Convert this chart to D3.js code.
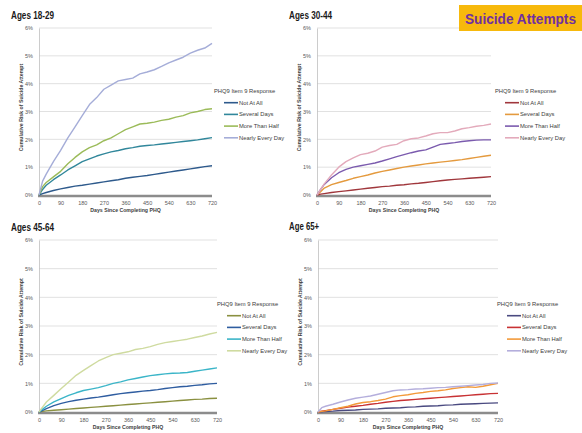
<!DOCTYPE html>
<html>
<head>
<meta charset="utf-8">
<script src="https://cdn.jsdelivr.net/npm/d3@7"></script>
<style>
body { margin: 0; background: #fff; }
svg { display: block; font-family: "Liberation Sans", Arial, sans-serif; }
</style>
</head>
<body>
<div id="app"></div>
<script>
// days since PHQ, shared by every curve
var days = [0, 15, 30, 60, 90, 120, 150, 180, 210, 240, 270, 300, 330, 360, 390, 420, 450, 480, 510, 540, 570, 600, 630, 660, 690, 720];
var xTicks = [0, 90, 180, 270, 360, 450, 540, 630, 720];
var yTicks = [0, 1, 2, 3, 4, 5, 6];
var responses = ['Not At All', 'Several Days', 'More Than Half', 'Nearly Every Day'];
var panelTitles = ['Ages 18-29', 'Ages 30-44', 'Ages 45-64', 'Age 65+'];

// cumulative risk (%) - ages 18-29
var a1829NotAtAll = [0, 0.05, 0.09, 0.16, 0.22, 0.27, 0.32, 0.35, 0.39, 0.43, 0.47, 0.51, 0.55, 0.6, 0.64, 0.67, 0.7, 0.74, 0.78, 0.82, 0.86, 0.9, 0.94, 0.98, 1.02, 1.05];
var a1829Several = [0, 0.2, 0.35, 0.55, 0.72, 0.9, 1.05, 1.2, 1.3, 1.4, 1.48, 1.55, 1.6, 1.66, 1.7, 1.75, 1.78, 1.8, 1.83, 1.86, 1.89, 1.92, 1.95, 1.98, 2.02, 2.06];
var a1829MoreHalf = [0, 0.3, 0.45, 0.65, 0.85, 1.12, 1.35, 1.55, 1.7, 1.8, 1.95, 2.05, 2.2, 2.35, 2.45, 2.55, 2.58, 2.62, 2.68, 2.72, 2.8, 2.85, 2.95, 3.0, 3.07, 3.1];
var a1829Nearly = [0, 0.5, 0.75, 1.2, 1.6, 2.05, 2.45, 2.85, 3.25, 3.5, 3.8, 3.95, 4.1, 4.15, 4.2, 4.35, 4.42, 4.5, 4.62, 4.75, 4.85, 4.95, 5.1, 5.2, 5.28, 5.45];

// ages 30-44
var a3044NotAtAll = [0, 0.03, 0.05, 0.09, 0.12, 0.15, 0.18, 0.21, 0.24, 0.27, 0.3, 0.32, 0.35, 0.37, 0.4, 0.42, 0.45, 0.48, 0.51, 0.54, 0.56, 0.58, 0.6, 0.62, 0.64, 0.66];
var a3044Several = [0, 0.12, 0.25, 0.37, 0.45, 0.52, 0.6, 0.66, 0.72, 0.79, 0.85, 0.9, 0.95, 1.0, 1.04, 1.08, 1.12, 1.15, 1.18, 1.21, 1.24, 1.27, 1.31, 1.35, 1.39, 1.43];
var a3044MoreHalf = [0, 0.2, 0.38, 0.62, 0.8, 0.92, 1.0, 1.05, 1.1, 1.15, 1.22, 1.3, 1.38, 1.45, 1.52, 1.58, 1.62, 1.72, 1.82, 1.85, 1.88, 1.92, 1.95, 1.97, 1.98, 1.98];
var a3044Nearly = [0, 0.2, 0.4, 0.72, 1.0, 1.2, 1.33, 1.45, 1.5, 1.58, 1.72, 1.78, 1.82, 1.95, 2.02, 2.05, 2.12, 2.2, 2.24, 2.24, 2.3, 2.38, 2.42, 2.47, 2.5, 2.55];

// ages 45-64
var a4564NotAtAll = [0, 0.02, 0.04, 0.06, 0.08, 0.1, 0.12, 0.14, 0.16, 0.18, 0.2, 0.22, 0.24, 0.26, 0.28, 0.3, 0.32, 0.34, 0.36, 0.38, 0.4, 0.42, 0.44, 0.45, 0.47, 0.48];
var a4564Several = [0, 0.06, 0.12, 0.22, 0.3, 0.36, 0.41, 0.45, 0.49, 0.52, 0.56, 0.6, 0.64, 0.67, 0.7, 0.73, 0.75, 0.78, 0.82, 0.85, 0.88, 0.9, 0.93, 0.95, 0.98, 1.0];
var a4564MoreHalf = [0, 0.1, 0.2, 0.35, 0.47, 0.58, 0.67, 0.75, 0.8, 0.85, 0.92, 1.0, 1.05, 1.12, 1.17, 1.22, 1.27, 1.3, 1.33, 1.35, 1.36, 1.38, 1.42, 1.46, 1.5, 1.54];
var a4564Nearly = [0, 0.18, 0.35, 0.58, 0.82, 1.05, 1.28, 1.45, 1.62, 1.78, 1.9, 2.0, 2.05, 2.1, 2.18, 2.22, 2.28, 2.36, 2.42, 2.46, 2.5, 2.54, 2.6, 2.65, 2.72, 2.78];

// ages 65+
var a65NotAtAll = [0, 0.01, 0.02, 0.03, 0.05, 0.06, 0.07, 0.09, 0.1, 0.11, 0.13, 0.14, 0.15, 0.17, 0.18, 0.2, 0.21, 0.22, 0.24, 0.25, 0.27, 0.28, 0.29, 0.3, 0.31, 0.32];
var a65Several = [0, 0.03, 0.05, 0.09, 0.13, 0.17, 0.2, 0.23, 0.27, 0.3, 0.34, 0.37, 0.4, 0.42, 0.44, 0.46, 0.48, 0.5, 0.52, 0.54, 0.56, 0.58, 0.6, 0.62, 0.64, 0.65];
var a65MoreHalf = [0, 0.02, 0.04, 0.09, 0.15, 0.2, 0.28, 0.33, 0.36, 0.4, 0.45, 0.53, 0.57, 0.6, 0.65, 0.68, 0.72, 0.74, 0.77, 0.82, 0.85, 0.88, 0.86, 0.9, 0.95, 1.0];
var a65Nearly = [0, 0.15, 0.2, 0.27, 0.35, 0.42, 0.48, 0.52, 0.56, 0.62, 0.68, 0.74, 0.77, 0.78, 0.8, 0.81, 0.83, 0.85, 0.86, 0.88, 0.9, 0.92, 0.94, 0.96, 1.0, 1.01];

var panels = [
    { title: panelTitles[0], box: [39, 212, 195, 28], tx: 11, ty: 19, lx: 214, ly: 93,
      series: [a1829NotAtAll, a1829Several, a1829MoreHalf, a1829Nearly],
      colors: ['#2e5a8c', '#31879b', '#9bbb59', '#a5add8'] },
    { title: panelTitles[1], box: [317, 491, 195, 28], tx: 289, ty: 19, lx: 495, ly: 93,
      series: [a3044NotAtAll, a3044Several, a3044MoreHalf, a3044Nearly],
      colors: ['#a0373c', '#e49a3e', '#7b5bae', '#e3aabb'] },
    { title: panelTitles[2], box: [39, 217, 412, 240], tx: 11, ty: 231, lx: 217, ly: 306,
      series: [a4564NotAtAll, a4564Several, a4564MoreHalf, a4564Nearly],
      colors: ['#8a9040', '#2f5da0', '#3bb5c8', '#cfdba0'] },
    { title: panelTitles[3], box: [318, 498, 412, 240], tx: 289, ty: 230, lx: 497, ly: 306,
      series: [a65NotAtAll, a65Several, a65MoreHalf, a65Nearly],
      colors: ['#4a4a80', '#c83234', '#f39a3a', '#b4aedc'] }
];

var svg = d3.select('#app')
    .append('svg')
    .attr('width', 582)
    .attr('height', 433);

svg.append('rect')
    .attr('width', 582)
    .attr('height', 433)
    .attr('fill', '#fff');

panels.forEach(function (p) {
    var x = d3.scaleLinear().domain([0, 720]).range([p.box[0], p.box[1]]);
    var y = d3.scaleLinear().domain([0, 6]).range([p.box[2], p.box[3]]);
    var g = svg.append('g');

    // grid lines
    g.selectAll('.grid')
        .data(yTicks.slice(1))
        .enter()
        .append('line')
        .attr('x1', x(0))
        .attr('x2', x(720))
        .attr('y1', function (d) { return y(d) })
        .attr('y2', function (d) { return y(d) })
        .attr('stroke', '#d9d9d9')
        .attr('stroke-width', 0.8);

    // y axis
    var yAxis = g.append('g')
        .attr('transform', 'translate(' + x(0) + ',0)')
        .call(d3.axisLeft(y).tickValues(yTicks).tickSize(0).tickPadding(6)
            .tickFormat(function (d) { return d + '%' }));
    yAxis.select('.domain').attr('stroke', '#bfbfbf').attr('stroke-width', 0.8);
    yAxis.selectAll('text')
        .attr('font-size', 5.5)
        .attr('fill', '#595959')
        .attr('font-family', null);

    // x axis
    var xAxis = g.append('g')
        .attr('transform', 'translate(0,' + (y(0) + 1) + ')')
        .call(d3.axisBottom(x).tickValues(xTicks).tickSize(0).tickPadding(5));
    xAxis.select('.domain').remove();
    xAxis.selectAll('text')
        .attr('font-size', 5.5)
        .attr('fill', '#595959')
        .attr('font-family', null);

    g.append('line')
        .attr('x1', x(0) - 1)
        .attr('x2', x(720))
        .attr('y1', y(0) + 1)
        .attr('y2', y(0) + 1)
        .attr('stroke', '#8c8c8c')
        .attr('stroke-width', 2.6);

    // axis titles
    g.append('text')
        .attr('x', (x(0) + x(720)) / 2)
        .attr('y', y(0) + 17)
        .attr('text-anchor', 'middle')
        .attr('font-size', 5.2)
        .attr('font-weight', 'bold')
        .attr('fill', '#404040')
        .text('Days Since Completing PHQ');

    g.append('text')
        .attr('transform', 'translate(' + (x(0) - 16) + ',' + ((y(0) + y(6)) / 2 - 4) + ') rotate(-90)')
        .attr('text-anchor', 'middle')
        .attr('font-size', 5.2)
        .attr('font-weight', 'bold')
        .attr('fill', '#404040')
        .text('Cumulative Risk of Suicide Attempt');

    // curves
    var line = d3.line()
        .x(function (d, i) { return x(days[i]) })
        .y(function (d) { return y(d) });

    g.selectAll('.curve')
        .data(p.series)
        .enter()
        .append('path')
        .attr('d', line)
        .attr('fill', 'none')
        .attr('stroke', function (d, i) { return p.colors[i] })
        .attr('stroke-width', 1.4)
        .attr('stroke-linejoin', 'round');

    // legend
    g.append('text')
        .attr('x', p.lx)
        .attr('y', p.ly)
        .attr('font-size', 5.8)
        .attr('fill', '#404040')
        .text('PHQ9 Item 9 Response');

    var items = g.selectAll('.item')
        .data(responses)
        .enter()
        .append('g')
        .attr('transform', function (d, i) {
            return 'translate(' + p.lx + ',' + (p.ly + 11.7 * (i + 1)) + ')'
        });
    items.append('line')
        .attr('x1', 10)
        .attr('x2', 24)
        .attr('y1', -2)
        .attr('y2', -2)
        .attr('stroke', function (d, i) { return p.colors[i] })
        .attr('stroke-width', 1.6);
    items.append('text')
        .attr('x', 25)
        .attr('y', 0)
        .attr('font-size', 5.8)
        .attr('fill', '#404040')
        .text(function (d) { return d });

    // panel title
    svg.append('text')
        .attr('x', p.tx)
        .attr('y', p.ty)
        .attr('font-size', 10)
        .attr('font-weight', 'bold')
        .attr('fill', '#1a1a1a')
        .attr('textLength', p.title.length * 4.3)
        .attr('lengthAdjust', 'spacingAndGlyphs')
        .text(p.title);
});

// banner
svg.append('rect')
    .attr('x', 459)
    .attr('y', 5)
    .attr('width', 123)
    .attr('height', 26)
    .attr('fill', '#f7b90c');

svg.append('text')
    .attr('x', 465)
    .attr('y', 23.5)
    .attr('font-size', 14)
    .attr('font-weight', 'bold')
    .attr('fill', '#7030a0')
    .attr('textLength', 111)
    .attr('lengthAdjust', 'spacingAndGlyphs')
    .text('Suicide Attempts');
</script>
</body>
</html>
